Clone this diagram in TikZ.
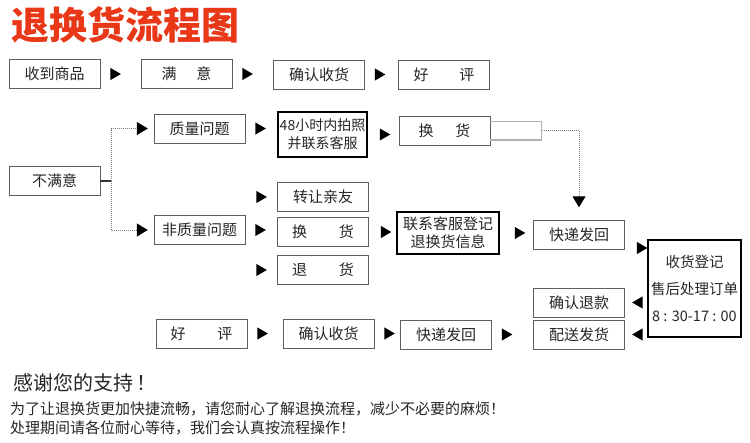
\documentclass[tikz,border=0pt]{standalone}
\usepackage{fontspec}
\newfontfamily\cjk{Noto Sans CJK SC}
\usetikzlibrary{arrows.meta,positioning,shapes.geometric}
\definecolor{titlered}{RGB}{232,56,24}
\definecolor{boxline}{RGB}{95,95,95}

\tikzset{
  box/.style={draw=boxline, fill=white, minimum width=91pt, minimum height=29pt,
    inner sep=0pt, text=black!85, font=\cjk\fontsize{15}{18}\selectfont},
  heavybox/.style={box, draw=black, line width=1.2pt},
  tri/.style={regular polygon, regular polygon sides=3, shape border rotate=-90,
    fill=black, draw=none, inner sep=0pt, minimum size=14pt},
  trileft/.style={tri, shape border rotate=90},
  dotline/.style={gray, densely dotted, line width=1pt,
    -{Triangle[length=11pt,width=13pt,color=black]}},
  plaintext/.style={anchor=west, inner sep=0pt, text=black!85}
}

\begin{document}
\begin{tikzpicture}[x=1pt,y=-1pt]
  \useasboundingbox (0,0) rectangle (750,442);
  \node[plaintext, text=titlered, font=\cjk\bfseries\fontsize{38}{40}\selectfont]
    (title) at (11,25) {退换货流程图};

  % satisfied path
  \node[box] (recv) at (54.5,74) {收到商品};
  \node[box] (satis) at (186.5,74) {满\hspace{20pt}意};
  \node[box] (confirm) at (319,74.5) {确认收货};
  \node[box] (praise) at (444,75) {好\hspace{31pt}评};
  \node[tri, right=10pt of recv] (t1) {};
  \node[tri, right=10pt of satis] (t2) {};
  \node[tri, right=10pt of confirm] (t3) {};

  % not satisfied
  \node[box] (unsat) at (54.5,181) {不满意};
  \node[box] (quality) at (199.5,128.5) {质量问题};
  \node[heavybox, minimum width=89pt, minimum height=45pt, align=center,
    font=\cjk\fontsize{14}{18}\selectfont] (photo) at (322.5,134.5)
    {48小时内拍照\\并联系客服};
  \node[box] (exchA) at (444.5,130.5) {换\hspace{22pt}货};
  \node[tri, right=10pt of quality] (t4) {};
  \node[tri, right=12pt of photo] (t5) {};

  \node[box] (nonq) at (199.5,230) {非质量问题};
  \node[box] (gift) at (323,197) {转让亲友};
  \node[box] (exchB) at (323,232) {换\hspace{32pt}货};
  \node[box] (refund) at (323,270) {退\hspace{32pt}货};
  \node[tri, left=10pt of gift] (t6) {};
  \node[tri, right=10pt of nonq] (t7) {};
  \node[tri, left=10pt of refund] (t8) {};

  \node[heavybox, minimum width=102pt, minimum height=42pt, align=center]
    (contact) at (448,233) {联系客服登记\\退换货信息};
  \node[tri, right=12pt of exchB] (t9) {};
  \node[box] (shipA) at (579,234.5) {快递发回};
  \node[tri, right=15pt of contact] (t10) {};

  \node[heavybox, minimum width=93pt, minimum height=97pt, align=center,
    font=\cjk\fontsize{14.5}{27}\selectfont] (reg) at (694.5,288.5)
    {收货登记\\售后处理订单\\8 : 30-17 : 00};
  \node[tri, right=12pt of shipA, yshift=-13.5pt] (t11) {};

  \node[box] (refok) at (579,302.5) {确认退款};
  \node[box] (deliver) at (579,334.5) {配送发货};
  \node[trileft, right=7pt of refok] (t12) {};
  \node[trileft, right=7pt of deliver] (t13) {};

  \node[box] (praiseB) at (201.5,333.5) {好\hspace{32pt}评};
  \node[box] (confirmB) at (328.5,333.5) {确认收货};
  \node[box] (shipB) at (446,334.5) {快递发回};
  \node[tri, right=10pt of praiseB] (t14) {};
  \node[tri, right=10pt of confirmB] (t15) {};
  \node[tri, right=10pt of shipB] (t16) {};

  % connectors
  \draw[line width=1.2pt, black!80] (unsat.east) -- ++(11,0) coordinate (fork);
  \draw[dotline, shorten >=6pt] (fork) |- (quality.west);
  \draw[dotline, shorten >=6pt] (fork) |- (nonq.west);

  \node[inner sep=0pt, minimum width=51pt, minimum height=18pt, right=0pt of exchA]
    (bar) {};
  \draw[gray!60, line width=1.6pt] (bar.north west) -- (bar.north east)
    -- (bar.south east) -- (bar.south west);
  \draw[dotline, shorten >=12.5pt] (bar.east) -| (shipA.north);

  % notes
  \node[plaintext, font=\cjk\fontsize{20}{24}\selectfont] (thanks) at (13,383)
    {感谢您的支持\hspace{3pt}！};
  \node[plaintext, font=\cjk\fontsize{15}{18}\selectfont] (noteA) at (10,409)
    {为了让退换货更加快捷流畅，请您耐心了解退换流程，减少不必要的麻烦！};
  \node[plaintext, font=\cjk\fontsize{15}{18}\selectfont] (noteB) at (10,428)
    {处理期间请各位耐心等待，我们会认真按流程操作！};
\end{tikzpicture}
\end{document}
